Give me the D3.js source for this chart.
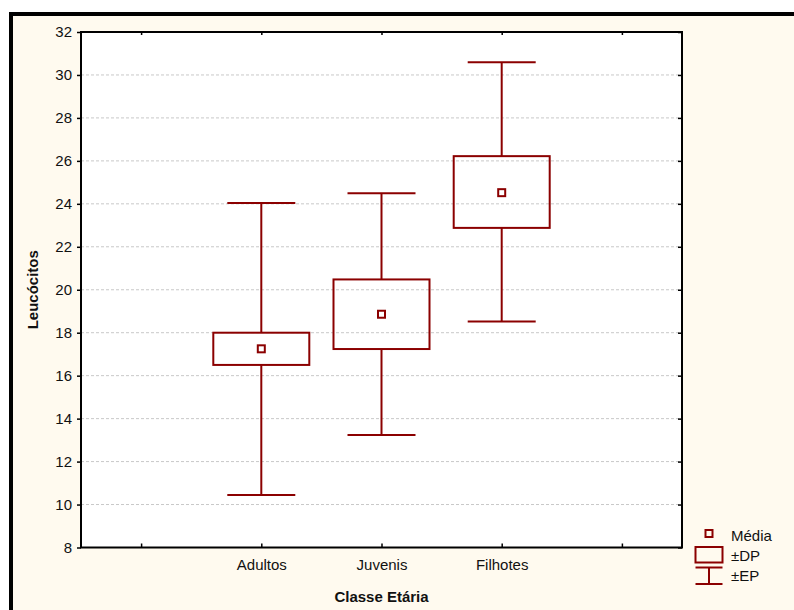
<!DOCTYPE html>
<html>
<head>
<meta charset="utf-8">
<script src="https://cdn.jsdelivr.net/npm/d3@7"></script>
<style>
  html, body { margin: 0; padding: 0; background: #ffffff; }
  svg { display: block; font-family: "Liberation Sans", Arial, sans-serif; }
</style>
</head>
<body>
<svg id="chart" width="794" height="610"></svg>
<script>
// categories (blank slots at both ends, as in the original layout)
const slots = ["", "Adultos", "Juvenis", "Filhotes", " "];
const groups = ["Adultos", "Juvenis", "Filhotes"];
const means = [17.25, 18.86, 24.52];
const boxLow = [16.50, 17.24, 22.88];
const boxHigh = [18.00, 20.48, 26.22];
const whiskLow = [10.44, 13.24, 18.52];
const whiskHigh = [24.04, 24.49, 30.59];
const yTicks = [8, 10, 12, 14, 16, 18, 20, 22, 24, 26, 28, 30, 32];

const color = "#8b0000";
const svg = d3.select("#chart");
const margin = { left: 81, top: 32, right: 682, bottom: 547.5 };

// page frame
svg.append("rect")
  .attr("x", 11).attr("y", 14)
  .attr("width", 900).attr("height", 800)
  .attr("fill", "#fffaef")
  .attr("stroke", "#000").attr("stroke-width", 4);

const x = d3.scalePoint().domain(slots).range([margin.left, margin.right]).padding(0.5);
const y = d3.scaleLinear().domain([8, 32]).range([margin.bottom, margin.top]);

// plot area
svg.append("rect")
  .attr("x", margin.left).attr("y", margin.top)
  .attr("width", margin.right - margin.left).attr("height", margin.bottom - margin.top)
  .attr("fill", "#ffffff");

// grid
svg.append("g")
  .selectAll("line")
  .data(yTicks.slice(1, -1))
  .join("line")
  .attr("x1", margin.left).attr("x2", margin.right)
  .attr("y1", (d) => y(d)).attr("y2", (d) => y(d))
  .attr("stroke", "#c8c8c8").attr("stroke-width", 1)
  .attr("stroke-dasharray", "3,2");

// axes
const axisStyle = (g) => {
  g.select(".domain").remove();
  g.selectAll(".tick line").attr("stroke", "#000").attr("stroke-width", 1.5);
  g.selectAll(".tick text").attr("fill", "#111").attr("font-size", 15).attr("font-family", "Liberation Sans, Arial, sans-serif");
};

svg.append("g")
  .attr("transform", `translate(${margin.left},0)`)
  .call(d3.axisLeft(y).tickValues(yTicks).tickSize(4).tickPadding(5))
  .call(axisStyle);

svg.append("g")
  .attr("transform", `translate(${margin.right},0)`)
  .call(d3.axisLeft(y).tickValues(yTicks).tickSize(4).tickFormat(""))
  .call(axisStyle);

svg.append("g")
  .attr("transform", `translate(0,${margin.bottom})`)
  .call(d3.axisTop(x).tickSize(4).tickFormat(""))
  .call(axisStyle);

svg.append("g")
  .attr("transform", `translate(0,${margin.bottom})`)
  .call(d3.axisBottom(x).tickSize(0).tickPadding(12))
  .call(axisStyle);

svg.append("g")
  .attr("transform", `translate(0,${margin.top})`)
  .call(d3.axisBottom(x).tickSize(3).tickFormat(""))
  .call(axisStyle);

// plot frame
svg.append("rect")
  .attr("x", margin.left).attr("y", margin.top)
  .attr("width", margin.right - margin.left).attr("height", margin.bottom - margin.top)
  .attr("fill", "none").attr("stroke", "#000").attr("stroke-width", 2);

// boxes and whiskers
const boxW = 96;
const capW = 68;
const mark = svg.append("g").attr("stroke", color).attr("stroke-width", 2).attr("fill", "none");

groups.forEach((name, i) => {
  const cx = x(name);
  mark.append("line")
    .attr("x1", cx).attr("x2", cx)
    .attr("y1", y(whiskHigh[i])).attr("y2", y(boxHigh[i]));
  mark.append("line")
    .attr("x1", cx).attr("x2", cx)
    .attr("y1", y(boxLow[i])).attr("y2", y(whiskLow[i]));
  [whiskHigh[i], whiskLow[i]].forEach((v) => {
    mark.append("line")
      .attr("x1", cx - capW / 2).attr("x2", cx + capW / 2)
      .attr("y1", y(v)).attr("y2", y(v));
  });
  mark.append("rect")
    .attr("x", cx - boxW / 2).attr("y", y(boxHigh[i]))
    .attr("width", boxW).attr("height", y(boxLow[i]) - y(boxHigh[i]));
  mark.append("rect")
    .attr("x", cx - 3.5).attr("y", y(means[i]) - 3.5)
    .attr("width", 7).attr("height", 7);
});

// axis titles
svg.append("text")
  .attr("x", (margin.left + margin.right) / 2).attr("y", 602)
  .attr("text-anchor", "middle")
  .attr("font-size", 15).attr("font-weight", "bold").attr("fill", "#111")
  .text("Classe Etária");

svg.append("text")
  .attr("transform", `translate(38,${(margin.top + margin.bottom) / 2}) rotate(-90)`)
  .attr("text-anchor", "middle")
  .attr("font-size", 15).attr("font-weight", "bold").attr("fill", "#111")
  .text("Leucócitos");

// legend
const legend = svg.append("g");
const lx = 709;
legend.append("rect")
  .attr("x", lx - 3.5).attr("y", 530)
  .attr("width", 7).attr("height", 7)
  .attr("fill", "none").attr("stroke", color).attr("stroke-width", 2);
legend.append("rect")
  .attr("x", lx - 13.5).attr("y", 547)
  .attr("width", 27).attr("height", 15.5)
  .attr("fill", "none").attr("stroke", color).attr("stroke-width", 2);
legend.append("line")
  .attr("x1", lx).attr("x2", lx).attr("y1", 567.5).attr("y2", 584)
  .attr("stroke", color).attr("stroke-width", 2);
[567.5, 584].forEach((ly) => {
  legend.append("line")
    .attr("x1", lx - 13.5).attr("x2", lx + 13.5).attr("y1", ly).attr("y2", ly)
    .attr("stroke", color).attr("stroke-width", 2);
});
[["Média", 541], ["±DP", 561], ["±EP", 581]].forEach(([label, ly]) => {
  legend.append("text")
    .attr("x", 731).attr("y", ly)
    .attr("font-size", 15).attr("fill", "#111")
    .text(label);
});
</script>
</body>
</html>
